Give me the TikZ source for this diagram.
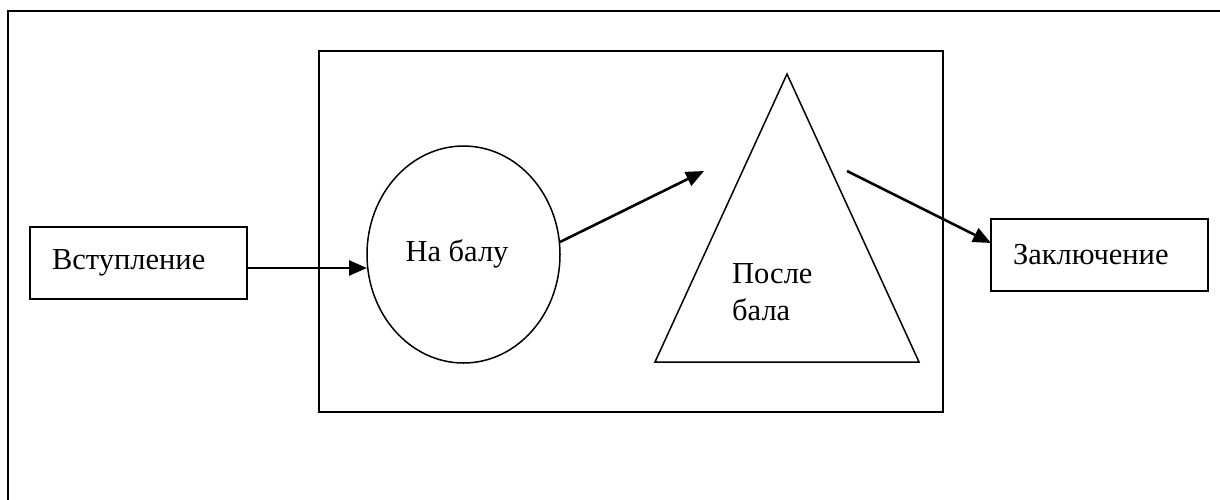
\documentclass[tikz,border=0pt]{standalone}
\usepackage{fontspec}
\setmainfont{Liberation Serif}
\usetikzlibrary{arrows.meta,shapes.geometric}
\tikzset{
  frame/.style={draw=black,line width=2.2pt},
  shapeline/.style={draw=black,line width=1.5pt},
  txtbox/.style={draw=black,line width=1.5pt,text width=173pt,align=left,inner xsep=22pt,minimum height=72pt,inner ysep=0pt,font=\fontsize{30.5}{36}\selectfont},
  label/.style={inner sep=0pt,font=\fontsize{30.5}{36}\selectfont},
  arr/.style={draw=black,line width=2.6pt,-{Triangle[length=18pt,width=15pt]}}
}
\begin{document}
\begin{tikzpicture}[x=1pt,y=-1pt]
\useasboundingbox (0,0) rectangle (1220,499);
\begin{scope}
\clip (0,0) rectangle (1220,499);
\draw[frame] (8,11) rectangle (1240,520);
\end{scope}
\node[frame,minimum width=624pt,minimum height=361pt,inner sep=0pt] (inner) at (631,231.5) {};
\node[txtbox] (vst) at (138.5,263) {Вступление};
\node[txtbox] (zak) at (1099.5,255) {Заключение};
\node[shapeline,ellipse,minimum width=193pt,minimum height=217pt,inner sep=0pt] (bal) at (463.5,254.5) {};
\node[label,anchor=base] (baltxt) at (457,261) {На балу};
\coordinate (tA) at (787,74);
\coordinate (tB) at (919,362);
\coordinate (tC) at (655,362);
\draw[shapeline,line join=miter] (tA) -- (tB) -- (tC) -- cycle;
\node[label,anchor=base west] (posle1) at (732,283) {После};
\node[label,anchor=base west] (posle2) at (732,320) {бала};
\coordinate (a1s) at (247,268);
\coordinate (a1e) at (367,268);
\coordinate (a2s) at (560,242);
\coordinate (a2e) at (704,171);
\coordinate (a3s) at (847,171);
\coordinate (a3e) at (991,243);
\draw[arr] (a1s) -- (a1e);
\draw[arr] (a2s) -- (a2e);
\draw[arr] (a3s) -- (a3e);
\end{tikzpicture}
\end{document}
